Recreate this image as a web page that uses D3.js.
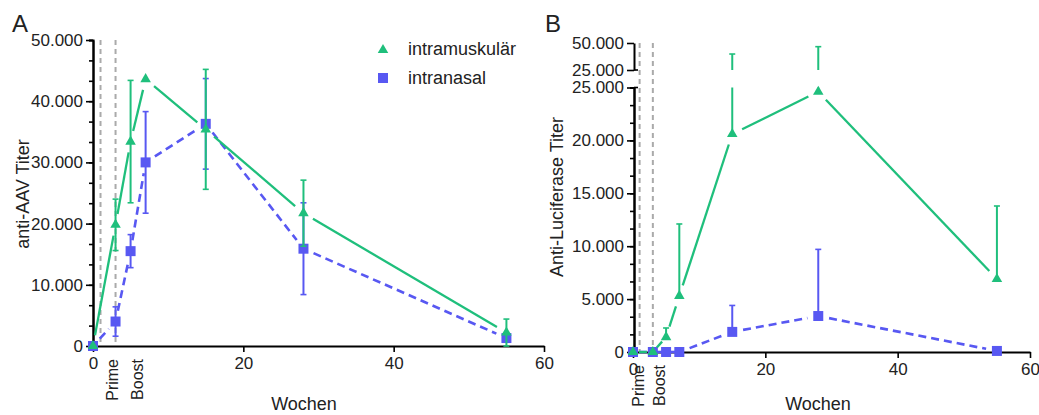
<!DOCTYPE html>
<html>
<head>
<meta charset="utf-8">
<script src="https://cdn.jsdelivr.net/npm/d3@7"></script>
<style>
  body { margin: 0; background: #fff; }
  text { font-family: "Liberation Sans", Arial, sans-serif; fill: #222; }
</style>
</head>
<body>
<div id="chart"></div>
<script>
const width = 1039;
const height = 415;

// weeks after first vaccination
const weeks = [0, 3, 5, 7, 15, 28, 55];
const vaccineWeeks = [1, 3];
const vaccineLabels = ["Prime", "Boost"];

// panel A: anti-AAV titer
const aavIM = [0, 19800, 33400, 43600, 35400, 21700, 2200];
const aavIMErr = [0, 4200, 10000, 0, 9800, 5400, 2200];
const aavIN = [0, 4000, 15500, 30000, 36300, 15900, 1300];
const aavINErr = [0, 2400, 2700, 8300, 7400, 7500, 0];

// panel B: anti-luciferase titer (only upper error shown)
const lucIM = [0, 0, 1400, 5300, 20600, 24600, 6900];
const lucIMErr = [0, 0, 870, 6800, 19200, 22000, 6900];
const lucIN = [0, 0, 0, 0, 1900, 3400, 100];
const lucINErr = [0, 0, 0, 0, 2500, 6300, 0];

const seriesNames = ["intramuskulär", "intranasal"];
const green = "#1fbf7c";
const blue = "#5858f2";

const de = d3.formatLocale({decimal: ",", thousands: ".", grouping: [3], currency: ["", "€"]});
const fmt = de.format(",d");

const svg = d3.select("#chart").append("svg")
    .attr("width", width)
    .attr("height", height);

// pieces of line between markers, GraphPad leaves a gap round each point
function gapped(g, pts, color, dash, gap) {
  for (let i = 0; i < pts.length - 1; i++) {
    const [x1, y1] = pts[i], [x2, y2] = pts[i + 1];
    const dx = x2 - x1, dy = y2 - y1;
    const len = Math.hypot(dx, dy);
    if (len === 0) continue;
    const gg = Math.min(gap, len * 0.3);
    const ux = dx / len, uy = dy / len;
    g.append("line")
        .attr("x1", x1 + ux * gg).attr("y1", y1 + uy * gg)
        .attr("x2", x2 - ux * gg).attr("y2", y2 - uy * gg)
        .attr("stroke", color)
        .attr("stroke-width", dash ? 2.6 : 2.3)
        .attr("stroke-dasharray", dash);
  }
}

function errorBar(g, x, y0, y1, color, capLow, capHigh) {
  g.append("line").attr("x1", x).attr("x2", x).attr("y1", y0).attr("y2", y1)
      .attr("stroke", color).attr("stroke-width", 2);
  if (capLow) g.append("line").attr("x1", x - 3).attr("x2", x + 3).attr("y1", y0).attr("y2", y0)
      .attr("stroke", color).attr("stroke-width", 1.6);
  if (capHigh) g.append("line").attr("x1", x - 3).attr("x2", x + 3).attr("y1", y1).attr("y2", y1)
      .attr("stroke", color).attr("stroke-width", 1.6);
}

const tri = d3.symbol().type(d3.symbolTriangle).size(48);
const sq = d3.symbol().type(d3.symbolSquare).size(100);

function styleAxis(g) {
  g.select(".domain").attr("stroke", "#000").attr("stroke-width", 2);
  g.selectAll(".tick line").attr("stroke", "#000").attr("stroke-width", 1.6);
  g.selectAll(".tick text").attr("font-size", 17).attr("fill", "#222")
      .attr("font-family", "Liberation Sans, Arial, sans-serif");
}

function vaccineMarks(g, x, yTop, yAxis, labelWeeks) {
  g.selectAll("line.vac").data(vaccineWeeks).join("line")
      .attr("class", "vac")
      .attr("x1", d => x(d)).attr("x2", d => x(d))
      .attr("y1", yTop).attr("y2", yAxis)
      .attr("stroke", "#aaa").attr("stroke-width", 2)
      .attr("stroke-dasharray", "5,4");
  g.selectAll("text.vac").data(vaccineLabels).join("text")
      .attr("class", "vac")
      .attr("transform", (d, i) => `translate(${x(labelWeeks[i])},${yAxis + 13}) rotate(-90)`)
      .attr("text-anchor", "end")
      .attr("font-size", 16)
      .text(d => d);
}

// ---------- Panel A ----------
{
  const x = d3.scaleLinear([0, 60], [93, 544]);
  const y = d3.scaleLinear([0, 50000], [346, 40]);
  const g = svg.append("g");

  vaccineMarks(g, x, 40, 346, [3.3, 6.6]);

  g.append("g").attr("transform", "translate(93,0)")
      .call(d3.axisLeft(y).tickValues(d3.range(0, 50001, 10000 / 3)).tickSize(4).tickFormat(""))
      .call(styleAxis);
  g.append("g").attr("transform", "translate(93,0)")
      .call(d3.axisLeft(y).tickValues(d3.range(0, 50001, 10000)).tickSize(7).tickSizeOuter(0).tickPadding(3).tickFormat(fmt))
      .call(styleAxis);
  g.append("g").attr("transform", "translate(0,346)")
      .call(d3.axisBottom(x).tickValues([0, 20, 40, 60]).tickSize(6).tickSizeOuter(0).tickPadding(5))
      .call(styleAxis);

  // intranasal first, intramuscular on top
  weeks.forEach((w, i) => {
    if (aavINErr[i] > 0) errorBar(g, x(w), y(aavIN[i] - aavINErr[i]), y(aavIN[i] + aavINErr[i]), blue, true, true);
  });
  gapped(g, weeks.map((w, i) => [x(w), y(aavIN[i])]), blue, "8,5", 11);
  g.selectAll("path.in").data(weeks).join("path").attr("class", "in")
      .attr("d", sq).attr("fill", blue)
      .attr("transform", (w, i) => `translate(${x(w)},${y(aavIN[i])})`);

  weeks.forEach((w, i) => {
    if (aavIMErr[i] > 0) errorBar(g, x(w), y(aavIM[i] - aavIMErr[i]), y(aavIM[i] + aavIMErr[i]), green, true, true);
  });
  gapped(g, weeks.map((w, i) => [x(w), y(aavIM[i])]), green, null, 11);
  g.selectAll("path.im").data(weeks).join("path").attr("class", "im")
      .attr("d", tri).attr("fill", green)
      .attr("transform", (w, i) => `translate(${x(w)},${y(aavIM[i])})`);

  g.append("text").attr("x", 12).attr("y", 32).attr("font-size", 24).text("A");
  g.append("text").attr("transform", "translate(29,194) rotate(-90)")
      .attr("text-anchor", "middle").attr("font-size", 18).text("anti-AAV Titer");
  g.append("text").attr("x", 304).attr("y", 410).attr("text-anchor", "middle")
      .attr("font-size", 18).text("Wochen");

  // legend
  const leg = g.append("g");
  leg.append("path").attr("d", tri).attr("fill", green).attr("transform", "translate(383,50)");
  leg.append("path").attr("d", sq).attr("fill", blue).attr("transform", "translate(383,78)");
  leg.selectAll("text").data(seriesNames).join("text")
      .attr("x", 408).attr("y", (d, i) => 55 + i * 29)
      .attr("font-size", 18).text(d => d);
}

// ---------- Panel B (broken y axis) ----------
{
  const x = d3.scaleLinear([0, 60], [633, 1030]);
  const yLow = d3.scaleLinear([0, 25000], [352, 87.5]);
  const yHigh = d3.scaleLinear([25000, 50000], [70, 43]);
  const g = svg.append("g");

  vaccineMarks(g, x, 43, 352, [1.7, 4.8]);

  g.append("g").attr("transform", "translate(634,0)")
      .call(d3.axisLeft(yLow).tickValues(d3.range(0, 25001, 5000 / 3)).tickSize(4).tickFormat(""))
      .call(styleAxis);
  g.append("g").attr("transform", "translate(634,0)")
      .call(d3.axisLeft(yLow).tickValues(d3.range(0, 25001, 5000)).tickSize(7).tickSizeOuter(0).tickPadding(3).tickFormat(fmt))
      .call(styleAxis);
  g.append("g").attr("transform", "translate(634,0)")
      .call(d3.axisLeft(yHigh).tickValues([25000, 50000]).tickSize(7).tickSizeOuter(0).tickPadding(3).tickFormat(fmt))
      .call(styleAxis);
  // caps at the axis break
  [yLow(25000), yHigh(25000)].forEach(v => {
    g.append("line").attr("x1", 634).attr("x2", 638).attr("y1", v).attr("y2", v)
        .attr("stroke", "#000").attr("stroke-width", 1.6);
  });
  g.append("g").attr("transform", "translate(0,352)")
      .call(d3.axisBottom(x).tickValues([0, 20, 40, 60]).tickSize(6).tickSizeOuter(0).tickPadding(5))
      .call(styleAxis);

  // error bar through the break, upper bound only
  function brokenBar(xp, m, e, color) {
    const top = m + e;
    if (top <= 25000) {
      errorBar(g, xp, yLow(m), yLow(top), color, false, true);
    } else {
      errorBar(g, xp, yLow(m), yLow(25000), color, false, false);
      errorBar(g, xp, yHigh(25000), yHigh(top), color, false, true);
    }
  }

  weeks.forEach((w, i) => { if (lucINErr[i] > 0) brokenBar(x(w), lucIN[i], lucINErr[i], blue); });
  gapped(g, weeks.map((w, i) => [x(w), yLow(lucIN[i])]), blue, "8,5", 11);
  g.selectAll("path.in").data(weeks).join("path").attr("class", "in")
      .attr("d", sq).attr("fill", blue)
      .attr("transform", (w, i) => `translate(${x(w)},${yLow(lucIN[i])})`);

  weeks.forEach((w, i) => { if (lucIMErr[i] > 0) brokenBar(x(w), lucIM[i], lucIMErr[i], green); });
  gapped(g, weeks.map((w, i) => [x(w), yLow(lucIM[i])]), green, null, 11);
  g.selectAll("path.im").data(weeks).join("path").attr("class", "im")
      .attr("d", tri).attr("fill", green)
      .attr("transform", (w, i) => `translate(${x(w)},${yLow(lucIM[i])})`);

  g.append("text").attr("x", 545).attr("y", 32).attr("font-size", 24).text("B");
  g.append("text").attr("transform", "translate(563,197) rotate(-90)")
      .attr("text-anchor", "middle").attr("font-size", 18).text("Anti-Luciferase Titer");
  g.append("text").attr("x", 818).attr("y", 410).attr("text-anchor", "middle")
      .attr("font-size", 18).text("Wochen");
}
</script>
</body>
</html>
